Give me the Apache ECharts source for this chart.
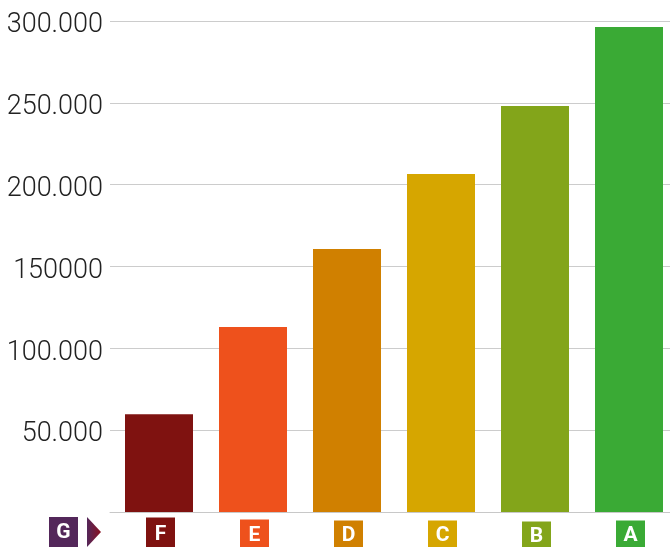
<!DOCTYPE html>
<html><head><meta charset="utf-8">
<style>html,body{margin:0;padding:0;background:#fff}#c{width:670px;height:547px}</style>
<script src="https://cdn.jsdelivr.net/npm/echarts@6/dist/echarts.min.js"></script>
</head><body><div id="c"></div>
<script>
const categories = ['F','E','D','C','B','A'];
const values = [59800,113000,160700,206500,248000,296300];
const colors = ['#7f1210','#ee511c','#d08000','#d6a600','#83a51a','#3aaa35'];
const boxHeights = [31,29,28,28,27,28];
const tickLabels = {0:'',50000:'50.000',100000:'100.000',150000:'150000',200000:'200.000',250000:'250.000',300000:'300.000'};
const extraCategory = 'G';
const extraColor = '#53275a';
const rich = {};
categories.forEach((c,i)=>{rich[c]={backgroundColor:colors[i],color:'#fff',width:29,height:boxHeights[i]-3,lineHeight:boxHeights[i]-3,padding:[3,0,0,0],align:'center',verticalAlign:'middle',fontFamily:'Roboto',fontWeight:700,fontSize:21};});
const chart = echarts.init(document.getElementById('c'),null,{renderer:'canvas'});
chart.setOption({
  animation:false,
  grid:[
    {left:110,width:560,top:21,height:491,outerBoundsMode:'none'},
    {left:112,width:564,top:21,height:491,outerBoundsMode:'none'},
    {left:113.5,width:564,top:21,height:491,outerBoundsMode:'none'}
  ],
  xAxis:[
    {gridIndex:0,type:'category',data:categories,axisTick:{show:false},axisLabel:{show:false},axisLine:{lineStyle:{color:'#c8c8c8',width:1}}},
    {gridIndex:1,type:'category',data:categories,show:false},
    {gridIndex:2,type:'category',data:categories,axisTick:{show:false},axisLine:{show:false},
     axisLabel:{margin:35,verticalAlign:'bottom',interval:0,formatter:v=>`{${v}|${v}}`,rich}}
  ],
  yAxis:[
    {gridIndex:0,type:'value',min:0,max:300000,interval:50000,axisLine:{show:false},axisTick:{show:false},
     splitLine:{lineStyle:{color:'#cccccc',width:1}},
     axisLabel:{margin:7,color:'#222',fontFamily:'Roboto',fontWeight:300,fontSize:27,formatter:v=>tickLabels[v],verticalAlign:'top',lineHeight:9}},
    {gridIndex:1,type:'value',min:0,max:300000,interval:50000,show:false},
    {gridIndex:2,type:'value',min:0,max:300000,interval:50000,show:false}
  ],
  series:[{type:'bar',xAxisIndex:1,yAxisIndex:1,barWidth:68,
    data:values.map((v,i)=>({value:v,itemStyle:{color:colors[i]}}))}],
  graphic:[
    {type:'rect',shape:{x:49,y:517,width:29,height:30},style:{fill:extraColor}},
    {type:'text',x:63.5,y:533,style:{text:extraCategory,fill:'#fff',font:'700 21px Roboto',align:'center',verticalAlign:'middle'}},
    {type:'polygon',shape:{points:[[87,517],[101,532],[87,547]]},
     style:{fill:new echarts.graphic.LinearGradient(0,0,1,0,[{offset:0,color:'#53275a'},{offset:1,color:'#8a1020'}])}}
  ]
});
</script></body></html>
